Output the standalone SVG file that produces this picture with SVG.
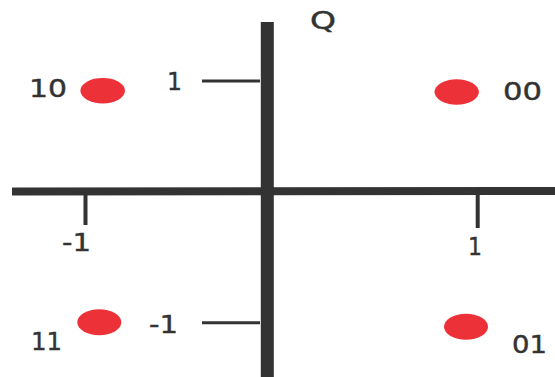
<svg xmlns="http://www.w3.org/2000/svg" width="555" height="377" viewBox="0 0 555 377">
<style>
.ax{stroke:#333;fill:none}
.pt{fill:#ec3238}
text{font-family:"DejaVu Sans","Liberation Sans",sans-serif;font-size:24px;fill:#333;stroke:#333;stroke-width:0.4}
</style>
<rect width="555" height="377" fill="#fff"/>
<g id="connectors">
<line class="ax" x1="12" y1="191.5" x2="555" y2="191" stroke-width="8"/>
<line class="ax" x1="267.3" y1="22" x2="267.3" y2="377" stroke-width="13"/>
<line class="ax" x1="85.5" y1="195" x2="85.5" y2="225" stroke-width="4"/>
<line class="ax" x1="477.7" y1="195" x2="477.7" y2="228" stroke-width="4"/>
<line class="ax" x1="202" y1="81" x2="260" y2="81" stroke-width="3"/>
<line class="ax" x1="202" y1="322.7" x2="260" y2="322.7" stroke-width="3"/>
</g>
<g id="axis-labels">
<text x="310" y="29" textLength="26" lengthAdjust="spacingAndGlyphs" font-size="19">Q</text>
<text x="167" y="90" textLength="15" lengthAdjust="spacingAndGlyphs">1</text>
<text x="149" y="333" textLength="29" lengthAdjust="spacingAndGlyphs">-1</text>
<text x="62" y="251" textLength="29" lengthAdjust="spacingAndGlyphs">-1</text>
<text x="468" y="255" textLength="14" lengthAdjust="spacingAndGlyphs">1</text>
</g>
<g id="p10"><ellipse class="pt" cx="102.7" cy="90.7" rx="22.3" ry="12.8"/><text x="29" y="97" textLength="38" lengthAdjust="spacingAndGlyphs">10</text></g>
<g id="p00"><ellipse class="pt" cx="456.7" cy="92" rx="22.2" ry="12.7"/><text x="503" y="100" textLength="39" lengthAdjust="spacingAndGlyphs">00</text></g>
<g id="p11"><ellipse class="pt" cx="99.3" cy="322.3" rx="22" ry="13"/><text x="31" y="350" textLength="31" lengthAdjust="spacingAndGlyphs">11</text></g>
<g id="p01"><ellipse class="pt" cx="466" cy="326.7" rx="22" ry="13"/><text x="512" y="353" textLength="35" lengthAdjust="spacingAndGlyphs">01</text></g>
</svg>
